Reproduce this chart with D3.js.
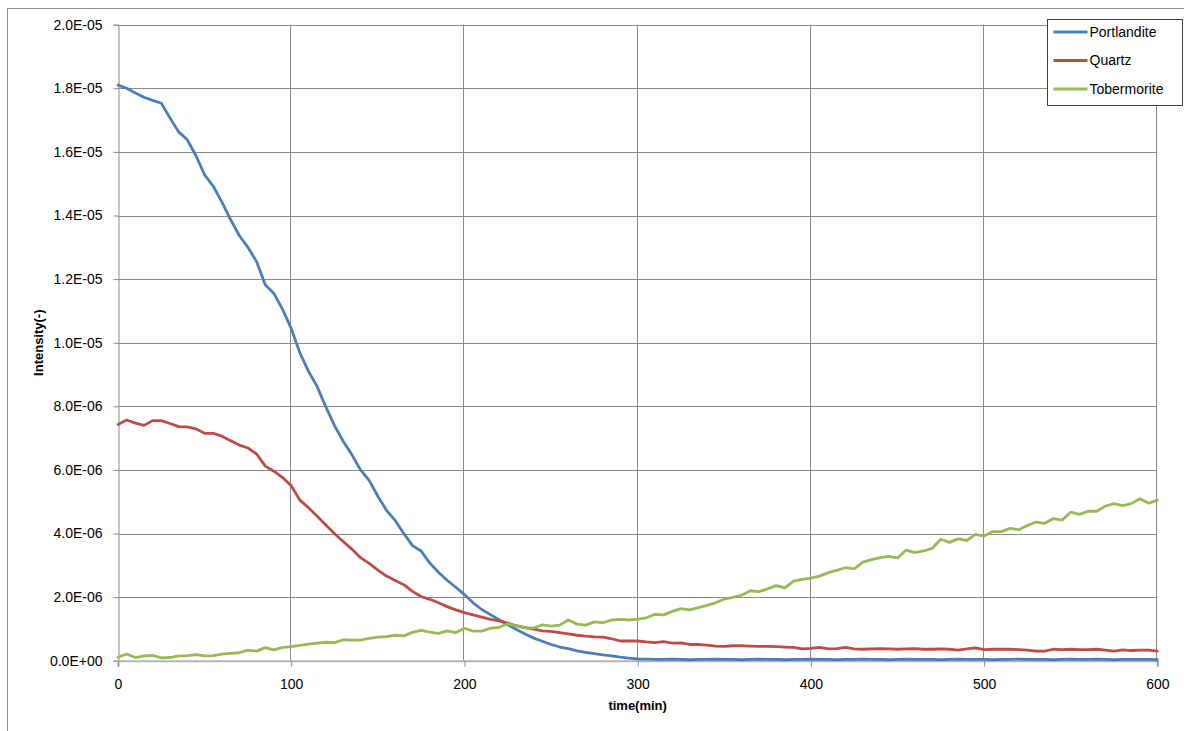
<!DOCTYPE html>
<html>
<head>
<meta charset="utf-8">
<script src="https://cdn.jsdelivr.net/npm/d3@7"></script>
<style>
  html, body { margin: 0; padding: 0; background: #fff; }
  svg text { font-family: "Liberation Sans", Arial, sans-serif; fill: #000; }
</style>
</head>
<body>
<div id="chart"></div>
<script>
// sampling step of the readings (minutes)
const stepMin = 5;

// values in units of 1E-06, one reading every 5 min from 0 to 600
const portlandite = [
  18.10, 18.00, 17.85, 17.72, 17.62, 17.53, 17.07, 16.63, 16.38, 15.88,
  15.28, 14.92, 14.42, 13.87, 13.37, 13.00, 12.55, 11.82, 11.55, 11.05,
  10.45, 9.68, 9.10, 8.62, 7.98, 7.39, 6.90, 6.48, 6.00, 5.67,
  5.17, 4.73, 4.41, 4.00, 3.62, 3.45, 3.07, 2.78, 2.53, 2.31,
  2.08, 1.82, 1.61, 1.45, 1.29, 1.13, 0.98, 0.84, 0.71, 0.61,
  0.51, 0.43, 0.38, 0.31, 0.26, 0.22, 0.18, 0.15, 0.11, 0.08,
  0.06, 0.05, 0.04, 0.04, 0.05, 0.04, 0.03, 0.04, 0.04, 0.05,
  0.04, 0.04, 0.03, 0.04, 0.05, 0.04, 0.04, 0.03, 0.04, 0.04,
  0.05, 0.04, 0.04, 0.03, 0.04, 0.04, 0.05, 0.04, 0.04, 0.03,
  0.04, 0.05, 0.04, 0.04, 0.04, 0.03, 0.04, 0.05, 0.04, 0.04,
  0.04, 0.03, 0.04, 0.04, 0.05, 0.04, 0.04, 0.04, 0.03, 0.04,
  0.05, 0.04, 0.04, 0.05, 0.04, 0.03, 0.04, 0.04, 0.04, 0.04,
  0.03
];

const quartz = [
  7.43, 7.57, 7.47, 7.40, 7.55, 7.55, 7.46, 7.36, 7.35, 7.29,
  7.15, 7.15, 7.06, 6.92, 6.78, 6.69, 6.50, 6.12, 5.96, 5.76,
  5.50, 5.05, 4.81, 4.54, 4.27, 3.99, 3.75, 3.51, 3.24, 3.06,
  2.85, 2.66, 2.52, 2.39, 2.18, 2.02, 1.93, 1.82, 1.70, 1.60,
  1.51, 1.44, 1.37, 1.30, 1.25, 1.18, 1.10, 1.04, 0.99, 0.94,
  0.92, 0.88, 0.84, 0.80, 0.77, 0.75, 0.74, 0.69, 0.62, 0.62,
  0.62, 0.59, 0.57, 0.60, 0.55, 0.56, 0.51, 0.51, 0.49, 0.46,
  0.45, 0.47, 0.47, 0.46, 0.45, 0.45, 0.44, 0.43, 0.42, 0.37,
  0.39, 0.42, 0.37, 0.38, 0.42, 0.37, 0.36, 0.37, 0.38, 0.37,
  0.36, 0.37, 0.38, 0.36, 0.36, 0.37, 0.36, 0.33, 0.37, 0.40,
  0.35, 0.36, 0.36, 0.36, 0.35, 0.33, 0.30, 0.30, 0.36, 0.35,
  0.36, 0.35, 0.35, 0.36, 0.33, 0.30, 0.34, 0.32, 0.33, 0.33,
  0.30
];

const tobermorite = [
  0.11, 0.21, 0.10, 0.15, 0.17, 0.09, 0.10, 0.15, 0.16, 0.19,
  0.15, 0.16, 0.21, 0.23, 0.25, 0.33, 0.30, 0.41, 0.34, 0.42,
  0.44, 0.48, 0.52, 0.55, 0.58, 0.57, 0.66, 0.65, 0.65, 0.70,
  0.74, 0.76, 0.80, 0.78, 0.89, 0.95, 0.90, 0.86, 0.94, 0.88,
  1.02, 0.93, 0.93, 1.02, 1.05, 1.16, 1.09, 1.03, 1.03, 1.13,
  1.09, 1.12, 1.28, 1.15, 1.12, 1.22, 1.20, 1.28, 1.30, 1.28,
  1.31, 1.35, 1.46, 1.44, 1.55, 1.64, 1.60, 1.67, 1.74, 1.82,
  1.94, 1.99, 2.06, 2.20, 2.17, 2.26, 2.36, 2.29, 2.50, 2.56,
  2.60, 2.66, 2.77, 2.84, 2.93, 2.89, 3.10, 3.18, 3.24, 3.28,
  3.23, 3.48, 3.40, 3.45, 3.53, 3.82, 3.72, 3.83, 3.78, 3.97,
  3.92, 4.06, 4.06, 4.16, 4.12, 4.25, 4.36, 4.32, 4.47, 4.42,
  4.67, 4.60, 4.70, 4.70, 4.86, 4.94, 4.88, 4.94, 5.09, 4.95,
  5.05
];

const seriesNames = ["Portlandite", "Quartz", "Tobermorite"];
const seriesColors = ["#4A7EBB", "#BE4B48", "#98B954"];
const xTicks = [0, 100, 200, 300, 400, 500, 600];
const yTicks = [0, 2e-6, 4e-6, 6e-6, 8e-6, 1e-5, 1.2e-5, 1.4e-5, 1.6e-5, 1.8e-5, 2e-5];

const width = 1184, height = 731;
const margin = { left: 118, right: 1184 - 1157.3, top: 24.7, bottom: 731 - 660.7 };

const svg = d3.select("#chart").append("svg")
    .attr("width", width)
    .attr("height", height);

// chart area border (extends past the picture on right/bottom)
svg.append("rect")
    .attr("x", 7.5).attr("y", 8.5)
    .attr("width", 1300).attr("height", 900)
    .attr("fill", "none")
    .attr("stroke", "#8c8c8c");

const x = d3.scaleLinear().domain([0, 600]).range([margin.left, width - margin.right]);
const y = d3.scaleLinear().domain([0, 2e-5]).range([height - margin.bottom, margin.top]);

const fmtExp = v => {
    // Excel style 0.0E+00
    const s = v.toExponential(1).toUpperCase();
    const [m, e] = s.split("E");
    const sign = e[0] === "-" ? "-" : "+";
    const digits = e.replace(/[+-]/, "").padStart(2, "0");
    return `${m}E${sign}${digits}`;
};

// gridlines
svg.append("g")
    .selectAll("line")
    .data(yTicks.slice(1))
    .join("line")
    .attr("x1", x(0)).attr("x2", x(600))
    .attr("y1", d => Math.round(y(d)) + 0.5).attr("y2", d => Math.round(y(d)) + 0.5)
    .attr("stroke", "#8a8a8a");

svg.append("g")
    .selectAll("line")
    .data(xTicks.slice(1))
    .join("line")
    .attr("x1", d => Math.round(x(d)) - 0.5).attr("x2", d => Math.round(x(d)) - 0.5)
    .attr("y1", y(2e-5)).attr("y2", y(0))
    .attr("stroke", "#8a8a8a");

// y axis
const yAxis = svg.append("g")
    .attr("transform", `translate(${Math.round(x(0)) + 0.5},0)`)
    .call(d3.axisLeft(y).tickValues(yTicks).tickFormat(fmtExp).tickSize(5).tickPadding(11));
yAxis.select(".domain").attr("stroke", "#8a8a8a");
yAxis.selectAll(".tick line").attr("stroke", "#8a8a8a");
yAxis.selectAll(".tick text")
    .style("font-size", "14px")
    .style("font-family", "'Liberation Sans', Arial, sans-serif")
    .attr("fill", "#000");

// x axis
const xAxis = svg.append("g")
    .attr("transform", `translate(0,${y(0)})`)
    .call(d3.axisBottom(x).tickValues(xTicks).tickFormat(d3.format("d")).tickSize(6).tickPadding(12));
xAxis.select(".domain").attr("stroke", "#b4b4b4").attr("stroke-width", 2);
xAxis.selectAll(".tick line").attr("stroke", "#8a8a8a");
xAxis.selectAll(".tick text")
    .style("font-size", "14px")
    .style("font-family", "'Liberation Sans', Arial, sans-serif")
    .attr("fill", "#000");

// axis titles
svg.append("text")
    .attr("transform", `translate(43,${(y(0) + y(2e-5)) / 2}) rotate(-90)`)
    .attr("text-anchor", "middle")
    .style("font-size", "13px")
    .style("font-weight", "bold")
    .text("Intensity(-)");

svg.append("text")
    .attr("x", (x(0) + x(600)) / 2)
    .attr("y", 710)
    .attr("text-anchor", "middle")
    .style("font-size", "13px")
    .style("font-weight", "bold")
    .text("time(min)");

// series lines
const allSeries = [portlandite, quartz, tobermorite];
const line = d3.line()
    .x((d, i) => x(i * stepMin))
    .y(d => y(d * 1e-6));

svg.append("g")
    .selectAll("path")
    .data(allSeries)
    .join("path")
    .attr("d", line)
    .attr("fill", "none")
    .attr("stroke", (d, i) => seriesColors[i])
    .attr("stroke-width", 2.8)
    .attr("stroke-linejoin", "round")
    .attr("stroke-linecap", "round");

// legend
const legend = svg.append("g").attr("transform", "translate(1047.5,19.5)");
legend.append("rect")
    .attr("width", 135).attr("height", 86)
    .attr("fill", "#fff")
    .attr("stroke", "#404040");

const item = legend.selectAll("g.item")
    .data(seriesNames)
    .join("g")
    .attr("class", "item")
    .attr("transform", (d, i) => `translate(0,${12.5 + i * 28.5})`);
item.append("line")
    .attr("x1", 6).attr("x2", 40)
    .attr("stroke", (d, i) => seriesColors[i])
    .attr("stroke-width", 2.8);
item.append("text")
    .attr("x", 42)
    .attr("dy", "0.35em")
    .style("font-size", "14px")
    .text(d => d);
</script>
</body>
</html>
